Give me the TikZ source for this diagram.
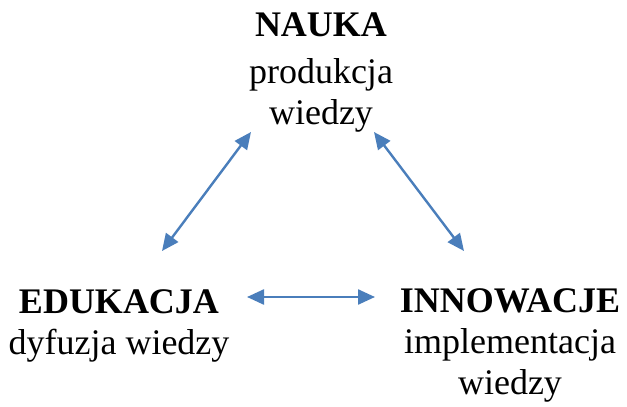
\documentclass[tikz,border=0pt]{standalone}
\usepackage{fontspec}
\setmainfont{Liberation Serif}
\usetikzlibrary{arrows.meta}
\definecolor{linkblue}{RGB}{74,126,187}
\tikzset{
  block/.style={align=center, inner sep=0pt, anchor=north,
    font=\fontsize{36}{41}\selectfont},
  link/.style={draw=linkblue, line width=2.4pt,
    {Triangle[length=17pt,width=15pt]}-{Triangle[length=17pt,width=15pt]}}
}
\begin{document}
\begin{tikzpicture}[x=1pt,y=-1pt]
  \useasboundingbox (0,0) rectangle (627,407);
  % the three pillars
  \node[block] (nauka) at (321,13) {\textbf{NAUKA}\\[6pt]produkcja\\wiedzy};
  \node[block] (edukacja) at (119,289) {\textbf{EDUKACJA}\\dyfuzja wiedzy};
  \node[block] (innowacje) at (510,288) {\textbf{INNOWACJE}\\implementacja\\wiedzy};
  % arrow end points
  \coordinate (nl) at (251,132);
  \coordinate (nr) at (374,132);
  \coordinate (el) at (162,251);
  \coordinate (eh) at (247,297);
  \coordinate (ih) at (375,297);
  \coordinate (ir) at (464,251);
  % two-way links
  \draw[link] (el) -- (nl);
  \draw[link] (nr) -- (ir);
  \draw[link] (eh) -- (ih);
\end{tikzpicture}
\end{document}
